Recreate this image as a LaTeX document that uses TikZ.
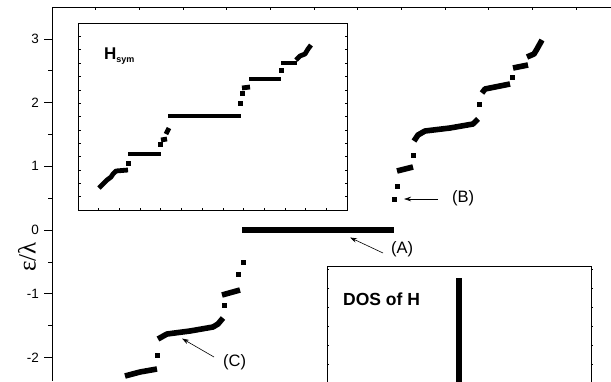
\documentclass[tikz,border=0pt]{standalone}
\usepackage{fontspec}
\setmainfont{Liberation Sans}
\newfontfamily\symfont{Liberation Serif}
\usetikzlibrary{arrows.meta}
\begin{document}
\begin{tikzpicture}[x=1pt,y=-1pt,
  frame/.style={line width=0.9pt},
  tickline/.style={line width=0.6pt},
  dat/.style={line width=5.6pt, line join=round, line cap=butt},
  insdat/.style={line width=4.8pt, line join=round, line cap=butt},
  blk/.style={fill=black},
  lab/.style={font=\fontsize{16.5}{16.5}\selectfont, inner sep=0pt},
  ticklab/.style={font=\fontsize{13.5}{13.5}\selectfont, anchor=east, inner sep=0pt},
  arr/.style={-{Stealth[length=7pt,width=4.5pt]}, line width=0.6pt}
]
\useasboundingbox (0,0) rectangle (611,381);
% ---------- main axes ----------
\draw[frame] (52,381) -- (52,7) -- (611,7);
\foreach \i in {1,...,12} \draw[tickline] ({52+43.65*\i},7) -- ++(0,3);
\foreach \k in {-2,...,3} {
  \draw[tickline] (52,{230-63.7*\k}) -- ++(-8,0);
  \node[ticklab] (yl\k) at (39,{230-63.7*\k}) {\k};
}
\foreach \k in {-1.5,-0.5,0.5,1.5,2.5} \draw[tickline] (52,{230-63.7*\k}) -- ++(-4,0);
\node[rotate=90, inner sep=0pt] (ylab) at (27,257) {\symfont\fontsize{25}{25}\selectfont ε/λ};
% ---------- main data ----------
\draw[dat] (125,376) -- (140,372) -- (157,369);
\fill[blk] (154.5,352.5) rectangle ++(5.5,5.5);
\draw[dat] (158,339) -- (167,334) -- (190,331) -- (213,327) -- (218,324) -- (223,318);
\fill[blk] (221.5,302.5) rectangle ++(5.5,5.5);
\draw[dat] (222,295) -- (240,290);
\fill[blk] (235.5,271.5) rectangle ++(5.5,5.5);
\fill[blk] (240.5,259.5) rectangle ++(5.5,5.5);
\draw[dat] (242,230) -- (394,230);
\fill[blk] (391.5,196.5) rectangle ++(5.5,5.5);
\fill[blk] (394.5,183.5) rectangle ++(5.5,5.5);
\draw[dat] (397,171) -- (413,167);
\fill[blk] (410.5,152.5) rectangle ++(5.5,5.5);
\draw[dat] (414,141) -- (418,135) -- (425,131) -- (450,128) -- (473,124) -- (478,119);
\fill[blk] (476.5,101.5) rectangle ++(5.5,5.5);
\draw[dat] (482,93) -- (485,89) -- (510,84);
\fill[blk] (509.5,74.5) rectangle ++(5.5,5.5);
\draw[dat] (513,68) -- (528,65);
\draw[dat] (527,57) -- (534,54) -- (537,49) -- (542,40);
% ---------- annotations ----------
\node[lab, anchor=west] (labA) at (391,249) {(A)};
\node[lab, anchor=west] (labB) at (452,198) {(B)};
\node[lab, anchor=west] (labC) at (223,362) {(C)};
\coordinate (A0) at (383,253);
\coordinate (A1) at (350,237.5);
\coordinate (B0) at (438,199);
\coordinate (B1) at (404,199);
\coordinate (C0) at (214,357);
\coordinate (C1) at (182,338.5);
\draw[arr] (A0) -- (A1);
\draw[arr] (B0) -- (B1);
\draw[arr] (C0) -- (C1);
% ---------- inset H_sym ----------
\fill[white] (78,23) rectangle (347,210);
\draw[line width=0.8pt] (78,23) rectangle (347,210);
\foreach \i in {1,...,12} \draw[tickline] ({78+20.69*\i},210) -- ++(0,-2.5);
\foreach \i in {1,...,13} {
  \draw[tickline] (78,{23+13.36*\i}) -- ++(2.5,0);
  \draw[tickline] (347,{23+13.36*\i}) -- ++(-2.5,0);
}
\node[inner sep=0pt, anchor=base west] (hsym) at (104,59) {\fontsize{17}{17}\selectfont\bfseries H\raisebox{-3.5pt}{\fontsize{9}{9}\selectfont sym}};
\draw[insdat] (99,188) -- (103,184) -- (107,180) -- (111,177) -- (113,174) -- (116,171) -- (128,170);
\fill[blk] (125.5,160.5) rectangle ++(5,5);
\draw[insdat] (128,154) -- (161,154);
\fill[blk] (158,141.5) rectangle ++(5,5);
\draw[insdat] (161,140) -- (167,139);
\draw[insdat] (166,134) -- (169,128);
\draw[insdat] (168,116) -- (241,116);
\fill[blk] (237.5,100.5) rectangle ++(5,5);
\fill[blk] (240,90.5) rectangle ++(5,5);
\draw[insdat] (242,88) -- (250,87);
\draw[insdat] (249,79) -- (281,79);
\fill[blk] (278.5,67.5) rectangle ++(5,5);
\draw[insdat] (281,63) -- (297,63);
\draw[insdat] (296,60) -- (300,56) -- (305,54) -- (308,49) -- (311,45);
% ---------- inset DOS ----------
\fill[white] (327,266) rectangle (591,382);
\draw[line width=0.8pt] (327,382) -- (327,266) -- (591,266) -- (591,382);
\foreach \i in {1,...,6} {
  \draw[tickline] (327,{250+19*\i}) -- ++(2,0);
  \draw[tickline] (591,{250+19*\i}) -- ++(2,0);
}
\node[inner sep=0pt, anchor=west] (dos) at (343,299) {\fontsize{17.5}{17.5}\selectfont\bfseries DOS of H};
\fill[blk] (456,278) rectangle (461.5,382);
\end{tikzpicture}
\end{document}
